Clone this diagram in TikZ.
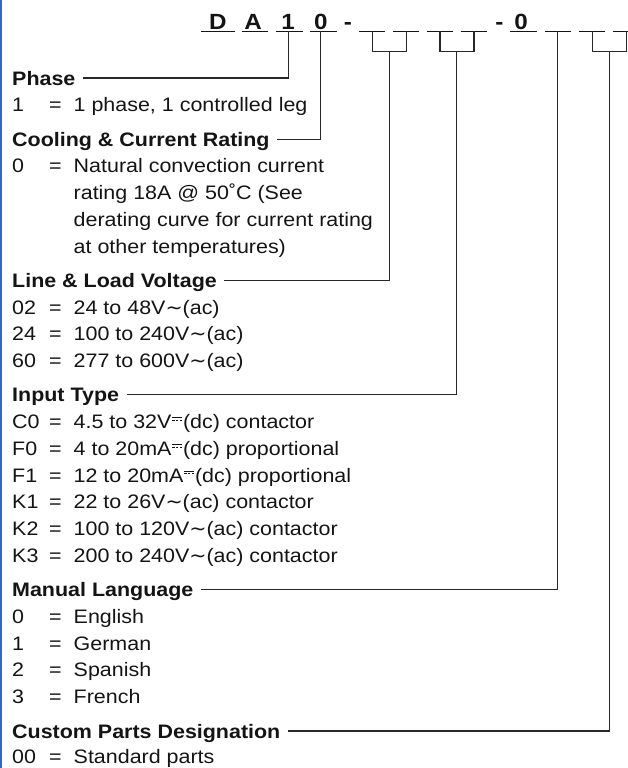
\documentclass[tikz,border=0pt]{standalone}
\usepackage{fontspec}
\setmainfont[FakeStretch=1.1]{Liberation Sans}
\newfontfamily\symfont[FakeStretch=1.05]{DejaVu Sans}
\definecolor{edgeblue}{RGB}{55,100,200}
\definecolor{ink}{RGB}{20,20,20}
\definecolor{rule}{RGB}{40,40,40}
\newcommand{\dcsym}{\hbox{\kern0.8pt\vbox{\hrule width 10pt height 0.9pt \kern1.7pt
  \hbox{\vrule width 2.4pt height 0.9pt\kern1.4pt\vrule width 2.4pt height 0.9pt\kern1.4pt\vrule width 2.4pt height 0.9pt}\kern 8pt}\kern0.8pt}}
\newcommand{\acsym}{{\symfont ∼}}
\newcommand{\itemrow}[4]{%
  \node[txt] (#1c) at (12,#2) {#3};
  \node[txt] (#1e) at (49,#2) {=};
  \node[txt] (#1t) at (73.5,#2) {#4};}
\begin{document}
\begin{tikzpicture}[x=1pt,y=-1pt,
  every node/.style={inner sep=0pt, font=\fontsize{19.5}{24}\selectfont, text=ink},
  hdr/.style={anchor=base west, font=\fontsize{19.5}{24}\selectfont\bfseries, text height=14pt, text depth=0pt},
  txt/.style={anchor=base west},
  topchar/.style={anchor=base, font=\fontsize{22}{24}\selectfont\bfseries},
  conn/.style={draw=rule, line width=1.1pt},
  uline/.style={draw=ink, line width=1.4pt}]
\useasboundingbox (0,0) rectangle (628,768);
\fill[edgeblue] (0,0) rectangle (1.7,768);

% top code line
\node[topchar] (lD) at (217.8,29.3) {D};
\node[topchar] (lA) at (253,29.3) {A};
\node[topchar] (l1) at (288,29.3) {1};
\node[topchar] (l0) at (320.8,29.3) {0};
\node[topchar] (m1) at (348,29.3) {-};
\node[topchar] (m2) at (499.5,29.3) {-};
\node[topchar] (l0b) at (521,29.3) {0};
\foreach \a/\b in {200.7/235, 241.7/268.3, 276/302.7, 310/336.7, 359.3/385, 393.3/419.3,
  427.3/452.7, 460.7/486.7, 510/536.7, 545/570.7, 579.3/605, 613.3/640}
  \draw[uline] (\a,31.5) -- (\b,31.5);
\draw[conn] (372.5,31.5) -- (372.5,51.7) -- (406.5,51.7) -- (406.5,31.5);
\draw[conn] (440,31.5) -- (440,51.7) -- (474,51.7) -- (474,31.5);
\draw[conn] (592.5,31.5) -- (592.5,51.7) -- (626.5,51.7) -- (626.5,31.5);
\coordinate (t1) at (288.3,31.5);
\coordinate (t2) at (320.7,31.5);
\coordinate (t3) at (389.3,51.7);
\coordinate (t4) at (456.7,51.7);
\coordinate (t5) at (557.8,31.5);
\coordinate (t6) at (609.5,51.7);

% headers
\node[hdr] (h1) at (12,85) {Phase};
\node[hdr] (h2) at (12,146.05) {Cooling \& Current Rating};
\node[hdr] (h3) at (12,287.35) {Line \& Load Voltage};
\node[hdr] (h4) at (12,401.9) {Input Type};
\node[hdr] (h5) at (12,596.7) {Manual Language};
\node[hdr] (h6) at (12,738) {Custom Parts Designation};

\draw[conn] ([xshift=7.5pt]h1.east) -| (t1);
\draw[conn] ([xshift=7.5pt]h2.east) -| (t2);
\draw[conn] ([xshift=7.5pt]h3.east) -| (t3);
\draw[conn] ([xshift=7.5pt]h4.east) -| (t4);
\draw[conn] ([xshift=7.5pt]h5.east) -| (t5);
\draw[conn] ([xshift=7.5pt]h6.east) -| (t6);

% items
\itemrow{pa}{111.75}{1}{1 phase, 1 controlled leg}
\itemrow{ca}{172.8}{0}{Natural convection current}
\node[txt] (cb) at (73.5,199.55) {rating 18A @ 50˚C (See};
\node[txt] (cc) at (73.5,226.3) {derating curve for current rating};
\node[txt] (cd) at (73.5,253.05) {at other temperatures)};

\itemrow{va}{314.1}{02}{24 to 48V\acsym(ac)}
\itemrow{vb}{340.85}{24}{100 to 240V\acsym(ac)}
\itemrow{vc}{367.6}{60}{277 to 600V\acsym(ac)}

\itemrow{ia}{428.65}{C0}{4.5 to 32V\dcsym(dc) contactor}
\itemrow{ib}{455.4}{F0}{4 to 20mA\dcsym(dc) proportional}
\itemrow{ic}{482.15}{F1}{12 to 20mA\dcsym(dc) proportional}
\itemrow{id}{508.9}{K1}{22 to 26V\acsym(ac) contactor}
\itemrow{ie}{535.65}{K2}{100 to 120V\acsym(ac) contactor}
\itemrow{if}{562.4}{K3}{200 to 240V\acsym(ac) contactor}

\itemrow{ma}{623.45}{0}{English}
\itemrow{mb}{650.2}{1}{German}
\itemrow{mc}{676.95}{2}{Spanish}
\itemrow{md}{703.7}{3}{French}

\itemrow{pc}{763}{00}{Standard parts}
\end{tikzpicture}
\end{document}
